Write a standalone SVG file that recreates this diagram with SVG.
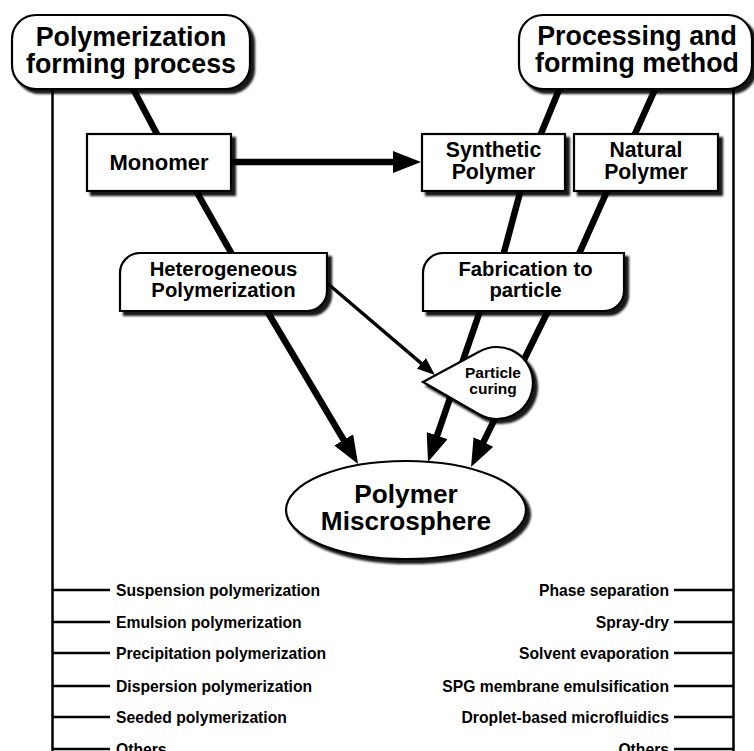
<svg xmlns="http://www.w3.org/2000/svg" width="754" height="751" viewBox="0 0 754 751">
  <defs>
    <filter id="sh" x="-10%" y="-15%" width="125%" height="140%">
      <feDropShadow dx="4" dy="4" stdDeviation="1.2" flood-color="#000" flood-opacity="0.9"/>
    </filter>
    <marker id="ah" markerUnits="userSpaceOnUse" markerWidth="28" markerHeight="22" viewBox="0 0 28 22" refX="8" refY="11" orient="auto">
      <path d="M0,0 L28,11 L0,22 Z" fill="#000"/>
    </marker>
    <marker id="ahs" markerUnits="userSpaceOnUse" markerWidth="18" markerHeight="14" viewBox="0 0 18 14" refX="5" refY="7" orient="auto">
      <path d="M0,0 L18,7 L0,14 Z" fill="#000"/>
    </marker>
  </defs>
  <style>
    text { font-family: "Liberation Sans", Arial, sans-serif; font-weight: bold; fill: #000; }
    .title { font-size: 26.8px; text-anchor: middle; }
    .box { font-size: 21.2px; text-anchor: middle; }
    .leaf { font-size: 20.3px; text-anchor: middle; }
    .item { font-size: 15.7px; }
    .r { text-anchor: end; }
    .shape { fill: #fff; stroke: #000; stroke-width: 2.2; filter: url(#sh); }
    .thick { stroke: #000; stroke-width: 6.5; fill: none; }
    .thin { stroke: #000; stroke-width: 3.4; fill: none; }
    .tree { stroke: #000; stroke-width: 2.5; fill: none; }
  </style>
  <rect width="754" height="751" fill="#fff"/>

  <g id="connectors">
    <path class="tree" d="M52.5,88 V751 M52.5,590 H110 M52.5,622 H110 M52.5,653 H110 M52.5,686 H110 M52.5,717 H110 M52.5,749 H110"/>
    <path class="tree" d="M733.5,88 V751 M674,590 H733.5 M674,622 H733.5 M674,653 H733.5 M674,686 H733.5 M674,717 H733.5 M674,749 H733.5"/>
    <line class="thick" x1="131" y1="85" x2="158" y2="136"/>
    <line class="thick" x1="195" y1="189" x2="233" y2="256"/>
    <line class="thick" x1="561" y1="85" x2="540" y2="136"/>
    <line class="thick" x1="657" y1="85" x2="634" y2="136"/>
    <line class="thick" x1="521" y1="189" x2="503" y2="256"/>
    <line class="thick" x1="608" y1="189" x2="578" y2="256"/>
    <line class="thick" stroke-width="5.5" x1="231" y1="162" x2="401" y2="162" marker-end="url(#ah)"/>
    <line class="thick" x1="267" y1="311" x2="347.8" y2="446.8" marker-end="url(#ah)"/>
    <line class="thick" x1="480" y1="311" x2="434.5" y2="443.1" marker-end="url(#ah)"/>
    <line class="thick" x1="548" y1="311" x2="479.9" y2="449.1" marker-end="url(#ah)"/>
    <line class="thin" x1="327" y1="283" x2="425.1" y2="366.6" marker-end="url(#ahs)"/>
  </g>

  <g id="polymerization-forming-process">
    <rect class="shape" x="12" y="15" width="238" height="74" rx="24"/>
    <text class="title" x="131" y="46">Polymerization</text>
    <text class="title" x="131" y="73">forming process</text>
  </g>

  <g id="processing-forming-method">
    <rect class="shape" x="519" y="15" width="233" height="74" rx="24"/>
    <text class="title" x="637" y="45">Processing and</text>
    <text class="title" x="637" y="72">forming method</text>
  </g>

  <g id="monomer">
    <rect class="shape" x="87" y="134" width="144" height="57"/>
    <text class="box" style="font-size:22px" x="159" y="170">Monomer</text>
  </g>

  <g id="synthetic-polymer">
    <rect class="shape" x="422" y="134" width="143" height="57"/>
    <text class="box" x="493.5" y="157">Synthetic</text>
    <text class="box" x="493.5" y="179">Polymer</text>
  </g>

  <g id="natural-polymer">
    <rect class="shape" x="574" y="134" width="144" height="57"/>
    <text class="box" x="646" y="157">Natural</text>
    <text class="box" x="646" y="179">Polymer</text>
  </g>

  <g id="heterogeneous-polymerization">
    <path class="shape" d="M120,273 A20,20 0 0 1 140,253 L327,253 L327,291 A20,20 0 0 1 307,311 L120,311 Z"/>
    <text class="leaf" x="223.5" y="276">Heterogeneous</text>
    <text class="leaf" x="223.5" y="297">Polymerization</text>
  </g>

  <g id="fabrication-to-particle">
    <path class="shape" d="M423,273 A20,20 0 0 1 443,253 L624,253 L624,291 A20,20 0 0 1 604,311 L423,311 Z"/>
    <text class="leaf" x="525.5" y="276">Fabrication to</text>
    <text class="leaf" x="525.5" y="297">particle</text>
  </g>

  <g id="particle-curing">
    <path class="shape" d="M423,382 L479.5,351.5 A36,36 0 1 1 479.5,414.5 Z"/>
    <text style="font-size:15.5px" x="493" y="378" text-anchor="middle">Particle</text>
    <text style="font-size:15.5px" x="493" y="394" text-anchor="middle">curing</text>
  </g>

  <g id="polymer-microsphere">
    <ellipse class="shape" cx="406" cy="510" rx="120" ry="49"/>
    <text style="font-size:26.2px" x="406" y="503" text-anchor="middle">Polymer</text>
    <text style="font-size:26.2px" x="406" y="530" text-anchor="middle">Miscrosphere</text>
  </g>

  <g id="polymerization-methods">
    <text class="item" x="116" y="596">Suspension polymerization</text>
    <text class="item" x="116" y="628">Emulsion polymerization</text>
    <text class="item" x="116" y="659">Precipitation polymerization</text>
    <text class="item" x="116" y="692">Dispersion polymerization</text>
    <text class="item" x="116" y="723">Seeded polymerization</text>
    <text class="item" x="116" y="755">Others</text>
  </g>

  <g id="processing-methods">
    <text class="item r" x="669" y="596">Phase separation</text>
    <text class="item r" x="669" y="628">Spray-dry</text>
    <text class="item r" x="669" y="659">Solvent evaporation</text>
    <text class="item r" x="669" y="692">SPG membrane emulsification</text>
    <text class="item r" x="669" y="723">Droplet-based microfluidics</text>
    <text class="item r" x="669" y="755">Others</text>
  </g>
</svg>
